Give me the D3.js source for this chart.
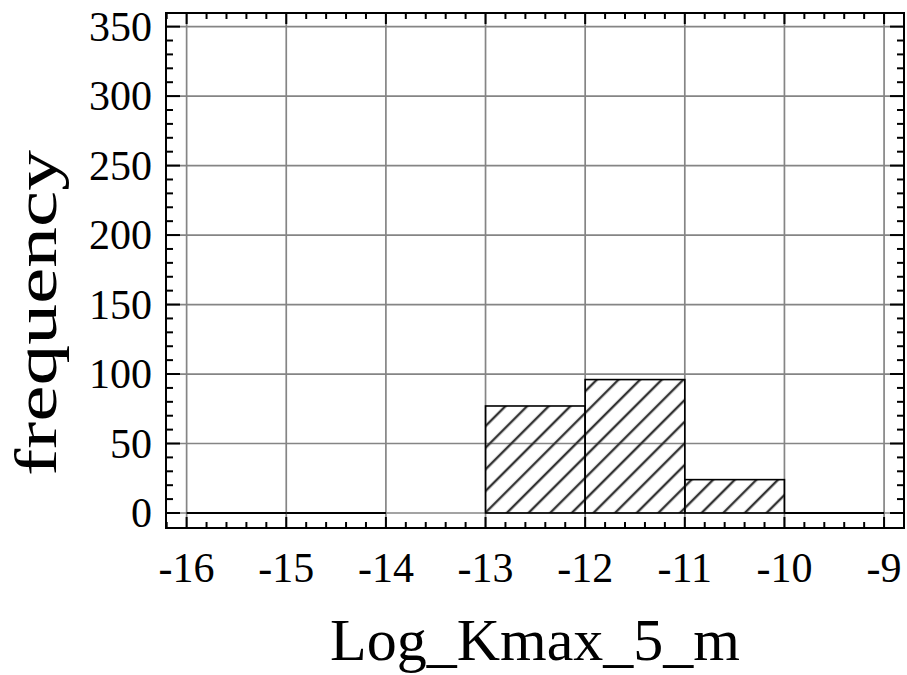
<!DOCTYPE html>
<html>
<head>
<meta charset="utf-8">
<script src="https://cdn.jsdelivr.net/npm/d3@7"></script>
<style>
  body { margin: 0; background: #fff; }
  text { font-family: "Liberation Serif", "Times New Roman", serif; fill: #000; }
</style>
</head>
<body>
<div id="chart"></div>
<script>
// histogram bins (lower edge) and their counts; null = bin not drawn
var binStarts = [-16, -15, -14, -13, -12, -11, -10];
var binWidth = 1;
var counts = [0, 0, null, 77, 96, 24, 0];
var xTicks = [-16, -15, -14, -13, -12, -11, -10, -9];
var yTicks = [0, 50, 100, 150, 200, 250, 300, 350];

var width = 907, height = 675;
var pLeft = 166, pRight = 904, pTop = 13, pBottom = 528;

var svg = d3.select("#chart").append("svg")
	.attr("width", width)
	.attr("height", height);

var x = d3.scaleLinear().domain([-16.207, -8.8]).range([pLeft, pRight]);
var y = d3.scaleLinear().domain([-10.8, 359.8]).range([pBottom, pTop]);

// hatch pattern
var defs = svg.append("defs");
defs.append("pattern")
	.attr("id", "hatch")
	.attr("patternUnits", "userSpaceOnUse")
	.attr("width", 15.3)
	.attr("height", 15.3)
	.attr("patternTransform", "rotate(45)")
	.append("line")
	.attr("x1", 2).attr("y1", 0)
	.attr("x2", 2).attr("y2", 15.3)
	.attr("stroke", "#333")
	.attr("stroke-width", 2.4);

// grid
var grid = svg.append("g");
grid.selectAll(".vg").data(xTicks).enter().append("line")
	.attr("x1", function(d){ return x(d); })
	.attr("x2", function(d){ return x(d); })
	.attr("y1", pTop).attr("y2", pBottom)
	.attr("stroke", "#858585").attr("stroke-width", 1.7);
grid.selectAll(".hg").data(yTicks).enter().append("line")
	.attr("y1", function(d){ return y(d); })
	.attr("y2", function(d){ return y(d); })
	.attr("x1", pLeft).attr("x2", pRight)
	.attr("stroke", "#858585").attr("stroke-width", 1.7);

// bars
var bins = binStarts.map(function(b, i){ return {x0: b, x1: b + binWidth, n: counts[i]}; })
	.filter(function(d){ return d.n !== null; });

svg.selectAll(".bar").data(bins.filter(function(d){ return d.n > 0; })).enter().append("rect")
	.attr("x", function(d){ return x(d.x0); })
	.attr("width", function(d){ return x(d.x1) - x(d.x0); })
	.attr("y", function(d){ return y(d.n); })
	.attr("height", function(d){ return y(0) - y(d.n); })
	.attr("fill", "url(#hatch)")
	.attr("stroke", "#000")
	.attr("stroke-width", 1.6);

svg.selectAll(".zero").data(bins.filter(function(d){ return d.n === 0; })).enter().append("line")
	.attr("x1", function(d){ return x(d.x0); })
	.attr("x2", function(d){ return x(d.x1); })
	.attr("y1", y(0)).attr("y2", y(0))
	.attr("stroke", "#000").attr("stroke-width", 2);

// ticks on all four sides, pointing inward
var xMinor = d3.range(-16.2, -8.8, 0.2).filter(function(v){ return Math.abs(v - Math.round(v)) > 0.01; });
var yMinor = d3.range(0, 360, 10).filter(function(v){ return v % 50 !== 0; });

function tickMarks(data, len, horiz, pos, dir){
	svg.append("g").selectAll("line").data(data).enter().append("line")
		.attr("x1", function(d){ return horiz ? x(d) : pos; })
		.attr("x2", function(d){ return horiz ? x(d) : pos + dir * len; })
		.attr("y1", function(d){ return horiz ? pos : y(d); })
		.attr("y2", function(d){ return horiz ? pos + dir * len : y(d); })
		.attr("stroke", "#000").attr("stroke-width", 2);
}
tickMarks(xTicks, 11, true, pBottom, -1);
tickMarks(xMinor, 6, true, pBottom, -1);
tickMarks(xTicks, 11, true, pTop, 1);
tickMarks(xMinor, 6, true, pTop, 1);
tickMarks(yTicks, 14, false, pLeft, 1);
tickMarks(yMinor, 7, false, pLeft, 1);
tickMarks(yTicks, 14, false, pRight, -1);
tickMarks(yMinor, 7, false, pRight, -1);

// frame
svg.append("rect")
	.attr("x", pLeft).attr("y", pTop)
	.attr("width", pRight - pLeft).attr("height", pBottom - pTop)
	.attr("fill", "none").attr("stroke", "#000").attr("stroke-width", 2);

// tick labels
svg.selectAll(".xl").data(xTicks).enter().append("text")
	.attr("x", function(d){ return x(d); })
	.attr("y", 582)
	.attr("text-anchor", "middle")
	.style("font-size", "42px")
	.text(function(d){ return d; });

svg.selectAll(".yl").data(yTicks).enter().append("text")
	.attr("x", 152)
	.attr("y", function(d){ return y(d); })
	.attr("dy", "0.34em")
	.attr("text-anchor", "end")
	.style("font-size", "42px")
	.text(function(d){ return d; });

// axis titles
svg.append("text")
	.attr("x", (pLeft + pRight) / 2)
	.attr("y", 660)
	.attr("text-anchor", "middle")
	.style("font-size", "60px")
	.text("Log_Kmax_5_m");

svg.append("text")
	.attr("transform", "translate(56,313) rotate(-90) scale(1.36,1)")
	.attr("text-anchor", "middle")
	.style("font-size", "60px")
	.text("frequency");
</script>
</body>
</html>
